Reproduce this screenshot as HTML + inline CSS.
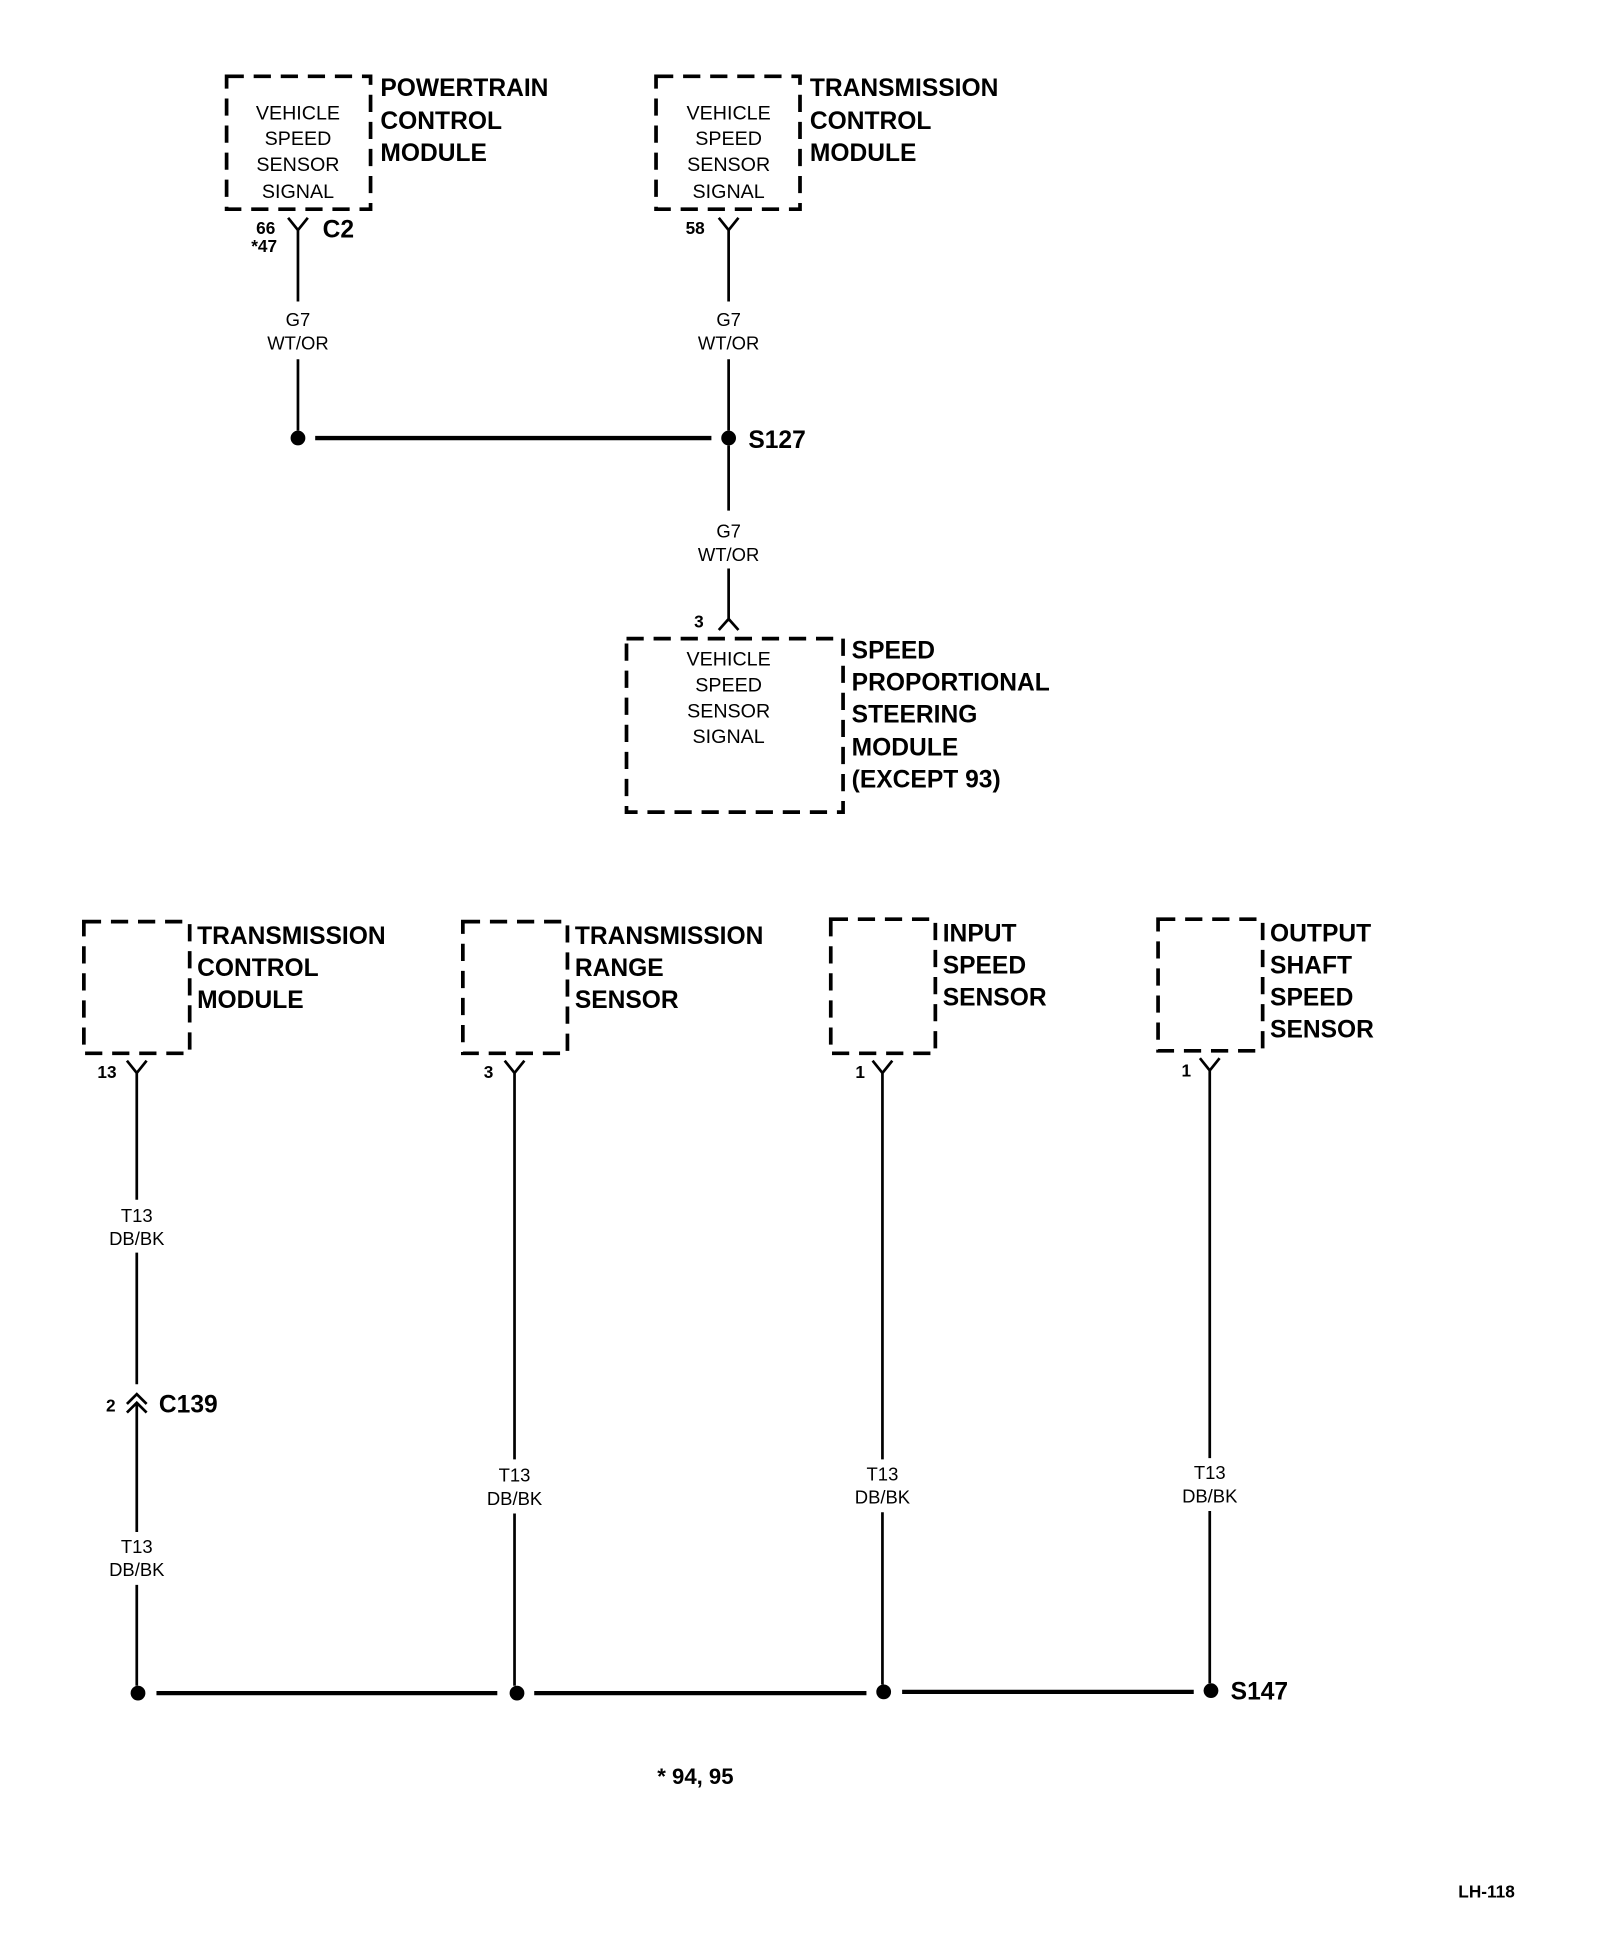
<!DOCTYPE html>
<html><head><meta charset="utf-8"><style>
html,body{margin:0;padding:0;background:#fff;}
svg{display:block;}
text{font-family:"Liberation Sans",sans-serif;fill:#000;}
.s{font-size:16px;text-anchor:middle;}
.b{font-size:20px;font-weight:bold;}
.w{font-size:15px;text-anchor:middle;}
.p{font-size:14px;}
</style></head><body>
<svg width="1600" height="1938" viewBox="0 0 1300 1575" xmlns="http://www.w3.org/2000/svg">
<g fill="none" stroke="#000" stroke-width="3" stroke-dasharray="14 8">
<rect x="184" y="62" width="117" height="108"/>
<rect x="533" y="62" width="117" height="108"/>
<rect x="509" y="519" width="176" height="141"/>
<rect x="68" y="749" width="86" height="107"/>
<rect x="376" y="749" width="85" height="107"/>
<rect x="675" y="747" width="85" height="109"/>
<rect x="941" y="747" width="85" height="107"/>
</g>
<g fill="none" stroke="#000" stroke-width="2.2">
<!-- top connectors -->
<path d="M234 177 L242 187 L250 177 M242 187 V245 M242 292 V350"/>
<path d="M584 177 L592 187 L600 177 M592 187 V245 M592 292 V350"/>
<path d="M592 362 V415 M592 462 V505 M584 512 L592 503 L600 512"/>
<!-- bottom connectors -->
<path d="M103 862 L111 872 L119 862 M111 872 V975 M111 1018 V1125 M103 1141 L111 1133 L119 1141 M103 1148 L111 1140 L119 1148 M111 1140 V1245 M111 1288 V1370"/>
<path d="M410 862 L418 872 L426 862 M418 872 V1186 M418 1230 V1370"/>
<path d="M709 862 L717 872 L725 862 M717 872 V1186 M717 1229 V1369"/>
<path d="M975 860 L983 870 L991 860 M983 870 V1185 M983 1228 V1368"/>
</g>
<g stroke="#000" stroke-width="3.5">
<line x1="256" y1="356" x2="578" y2="356"/>
<line x1="127" y1="1376" x2="404" y2="1376"/>
<line x1="434" y1="1376" x2="704" y2="1376"/>
<line x1="733" y1="1375" x2="970" y2="1375"/>
</g>
<g fill="#000">
<circle cx="242" cy="356" r="6"/><circle cx="592" cy="356" r="6"/>
<circle cx="112" cy="1376" r="6"/><circle cx="420" cy="1376" r="6"/>
<circle cx="718" cy="1375" r="6"/><circle cx="984" cy="1374" r="6"/>
</g>
<g class="s">
<text x="242" y="97">VEHICLE</text><text x="242" y="118">SPEED</text><text x="242" y="139">SENSOR</text><text x="242" y="161">SIGNAL</text>
<text x="592" y="97">VEHICLE</text><text x="592" y="118">SPEED</text><text x="592" y="139">SENSOR</text><text x="592" y="161">SIGNAL</text>
<text x="592" y="541">VEHICLE</text><text x="592" y="562">SPEED</text><text x="592" y="583">SENSOR</text><text x="592" y="604">SIGNAL</text>
</g>
<g class="b">
<text x="309" y="78">POWERTRAIN</text><text x="309" y="105">CONTROL</text><text x="309" y="131">MODULE</text>
<text x="658" y="78">TRANSMISSION</text><text x="658" y="105">CONTROL</text><text x="658" y="131">MODULE</text>
<text x="608" y="364">S127</text>
<text x="262" y="193">C2</text>
<text x="692" y="535">SPEED</text><text x="692" y="561">PROPORTIONAL</text><text x="692" y="587">STEERING</text><text x="692" y="614">MODULE</text><text x="692" y="640">(EXCEPT 93)</text>
<text x="160" y="767">TRANSMISSION</text><text x="160" y="793">CONTROL</text><text x="160" y="819">MODULE</text>
<text x="467" y="767">TRANSMISSION</text><text x="467" y="793">RANGE</text><text x="467" y="819">SENSOR</text>
<text x="766" y="765">INPUT</text><text x="766" y="791">SPEED</text><text x="766" y="817">SENSOR</text>
<text x="1032" y="765">OUTPUT</text><text x="1032" y="791">SHAFT</text><text x="1032" y="817">SPEED</text><text x="1032" y="843">SENSOR</text>
<text x="129" y="1148">C139</text>
<text x="1000" y="1381">S147</text>
<text x="534" y="1450" style="font-size:18px">* 94, 95</text>
<text x="1185" y="1542" style="font-size:14px">LH-118</text>
</g>
<g class="w">
<text x="242" y="265">G7</text><text x="242" y="284">WT/OR</text>
<text x="592" y="265">G7</text><text x="592" y="284">WT/OR</text>
<text x="592" y="437">G7</text><text x="592" y="456">WT/OR</text>
<text x="111" y="993">T13</text><text x="111" y="1012">DB/BK</text>
<text x="111" y="1262">T13</text><text x="111" y="1281">DB/BK</text>
<text x="418" y="1204">T13</text><text x="418" y="1223">DB/BK</text>
<text x="717" y="1203">T13</text><text x="717" y="1222">DB/BK</text>
<text x="983" y="1202">T13</text><text x="983" y="1221">DB/BK</text>
</g>
<g class="p" font-weight="bold">
<text x="208" y="190">66</text><text x="204" y="205">*47</text>
<text x="557" y="190">58</text>
<text x="564" y="510">3</text>
<text x="79" y="876">13</text>
<text x="393" y="876">3</text>
<text x="695" y="876">1</text>
<text x="960" y="875">1</text>
<text x="86" y="1147">2</text>
</g>
</svg>
</body></html>
